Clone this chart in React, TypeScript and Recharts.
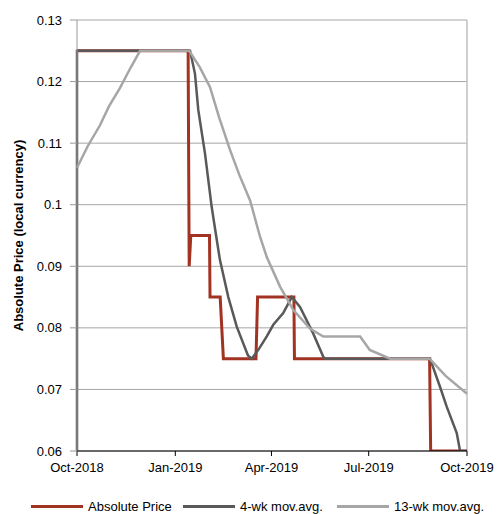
import { CartesianGrid, Line, LineChart, ReferenceLine, XAxis, YAxis } from 'recharts';

// days since 1 Oct 2018
const priceDays = [0, 104, 105, 106.5, 124, 124.5, 134, 137, 167.5, 169, 203, 203.5, 330, 331, 365];
const priceValues = [0.125, 0.125, 0.09, 0.095, 0.095, 0.085, 0.085, 0.075, 0.075, 0.085, 0.085, 0.075, 0.075, 0.06, 0.06];

const ma4Days = [0, 0, 104, 105.8, 110.4, 113.5, 119.8, 126, 130.8, 133.8, 141.6, 149.5, 160, 163.5, 170, 177.6, 183.7, 193, 201, 208.7, 221, 230.5, 232, 330.4, 339.8, 346, 355.4, 358.5, 365];
const ma4Values = [0.06, 0.125, 0.125, 0.125, 0.1213, 0.1154, 0.1083, 0.0997, 0.0943, 0.091, 0.085, 0.0802, 0.0755, 0.075, 0.0765, 0.0786, 0.0805, 0.0824, 0.085, 0.0834, 0.0791, 0.0753, 0.075, 0.075, 0.0704, 0.0672, 0.0629, 0.06, 0.06];

const ma13Days = [0, 10, 21.5, 30, 40, 50, 59, 105, 115, 124.5, 133, 143.2, 152, 162, 171.3, 177.6, 190, 202.5, 218, 230.5, 265, 274, 293, 330, 345, 365];
const ma13Values = [0.106, 0.1095, 0.1129, 0.116, 0.1189, 0.1222, 0.125, 0.125, 0.1223, 0.1191, 0.1142, 0.1089, 0.1048, 0.1007, 0.0948, 0.0915, 0.0867, 0.0829, 0.0799, 0.0786, 0.0786, 0.0764, 0.075, 0.075, 0.0722, 0.0693];

const xTicks = [0, 92, 182, 273, 365];
const xTickLabels = ['Oct-2018', 'Jan-2019', 'Apr-2019', 'Jul-2019', 'Oct-2019'];
const yTicks = [0.06, 0.07, 0.08, 0.09, 0.1, 0.11, 0.12, 0.13];
const yTickLabels = ['0.06', '0.07', '0.08', '0.09', '0.1', '0.11', '0.12', '0.13'];

const seriesNames = ['Absolute Price', '4-wk mov.avg.', '13-wk mov.avg.'];
const seriesColors = ['#a23322', '#595959', '#a6a6a6'];

const toPoints = (days: number[], values: number[]) => days.map((d, i) => ({ d, v: values[i] }));

const priceData = toPoints(priceDays, priceValues);
const ma4Data = toPoints(ma4Days, ma4Values);
const ma13Data = toPoints(ma13Days, ma13Values);

const font = { fontFamily: '"Liberation Sans", Arial, sans-serif', fontSize: 13, fill: '#000' };

const legendLeft = [31, 183, 337];

const ChartLegend = () => (
  <div style={{ position: 'absolute', left: 0, top: 499, width: 497, height: 16, fontFamily: font.fontFamily, fontSize: 13, color: '#000' }}>
    {seriesNames.map((name, i) => (
      <div key={name} style={{ position: 'absolute', left: legendLeft[i], top: 0, display: 'flex', alignItems: 'center', whiteSpace: 'nowrap' }}>
        <span style={{ display: 'inline-block', width: 52, height: 3, background: seriesColors[i], marginRight: 5 }} />
        <span>{name}</span>
      </div>
    ))}
  </div>
);

const App = () => {
  return (
    <div style={{ position: 'absolute', left: 0, top: 0, width: 497, height: 514 }}>
      <LineChart width={497} height={514} margin={{ top: 20, right: 30, left: 0, bottom: 33 }}>
        <CartesianGrid vertical={false} stroke='#a6a6a6' strokeWidth={1} />
        <XAxis
          dataKey='d'
          type='number'
          domain={[0, 365]}
          ticks={xTicks}
          tickFormatter={(v: number) => xTickLabels[xTicks.indexOf(v)]}
          interval={0}
          height={30}
          stroke='#000'
          tickSize={5}
          tickMargin={7}
          tick={font}
          allowDuplicatedCategory={false}
        />
        <YAxis
          type='number'
          width={77}
          domain={[0.06, 0.13]}
          ticks={yTicks}
          tickFormatter={(v: number) => yTickLabels[yTicks.indexOf(v)]}
          interval={0}
          stroke='#999'
          tickSize={7}
          tickMargin={8}
          tick={font}
          allowDataOverflow
          label={{
            value: 'Absolute Price (local currency)',
            angle: -90,
            position: 'insideLeft',
            offset: 18,
            style: { textAnchor: 'middle', fontFamily: font.fontFamily, fontSize: 13, fontWeight: 'bold', fill: '#000' },
          }}
        />
        <ReferenceLine x={365} stroke='#bfbfbf' strokeWidth={1.5} />
        <Line data={priceData} dataKey='v' name={seriesNames[0]} stroke={seriesColors[0]} strokeWidth={3} dot={false} isAnimationActive={false} />
        <Line data={ma4Data} dataKey='v' name={seriesNames[1]} stroke={seriesColors[1]} strokeWidth={2.5} dot={false} isAnimationActive={false} />
        <Line data={ma13Data} dataKey='v' name={seriesNames[2]} stroke={seriesColors[2]} strokeWidth={2.5} dot={false} isAnimationActive={false} />
      </LineChart>
      <ChartLegend />
    </div>
  );
};

export default App;
